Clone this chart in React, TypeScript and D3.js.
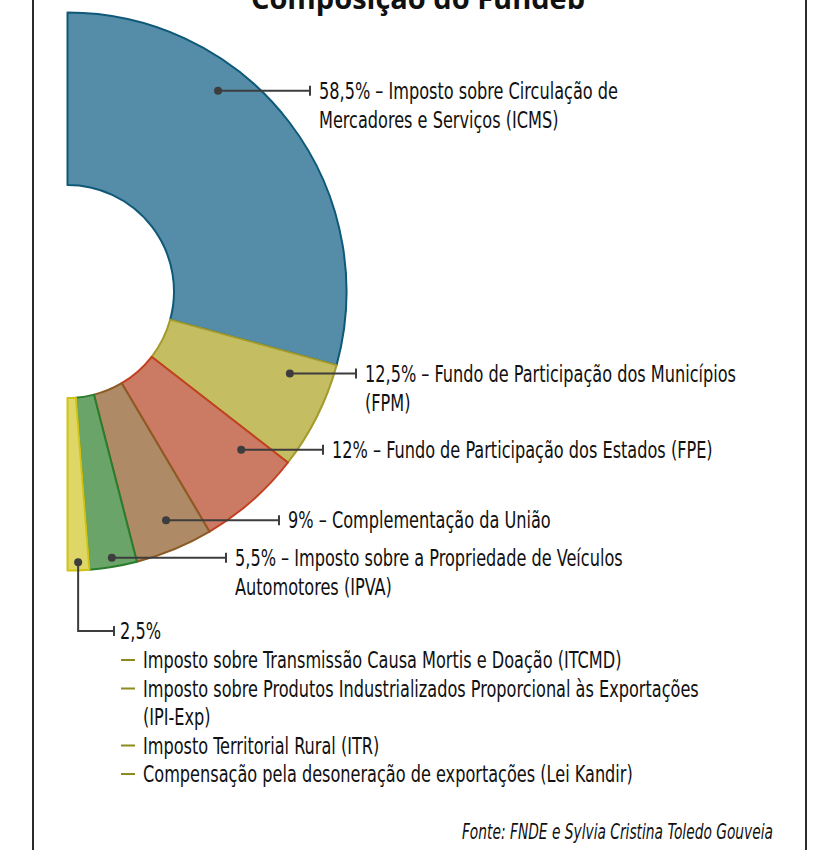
import React from "react";
import * as d3 from "d3";

const categories = [
  "ICMS",
  "FPM",
  "FPE",
  "Complementação",
  "IPVA",
  "Outros",
];
const values = [58.5, 12.5, 12, 9, 5.5, 2.5];
const fills = ["#558da8", "#c4bd62", "#cb7a64", "#ae8a66", "#6aa468", "#ded667"];
const strokes = ["#0e5878", "#a39b2c", "#c2401f", "#8c5b24", "#2a7d2d", "#d1c315"];

const labelLines: string[][] = [
  ["58,5% – Imposto sobre Circulação de", "Mercadores e Serviços (ICMS)"],
  ["12,5% – Fundo de Participação dos Municípios", "(FPM)"],
  ["12% – Fundo de Participação dos Estados (FPE)"],
  ["9% – Complementação da União"],
  ["5,5% – Imposto sobre a Propriedade de Veículos", "Automotores (IPVA)"],
  ["2,5%"],
];

const otherItems: string[][] = [
  ["Imposto sobre Transmissão Causa Mortis e Doação (ITCMD)"],
  ["Imposto sobre Produtos Industrializados Proporcional às Exportações", "(IPI-Exp)"],
  ["Imposto Territorial Rural (ITR)"],
  ["Compensação pela desoneração de exportações (Lei Kandir)"],
];

const title = "Composição do Fundeb";
const source = "Fonte: FNDE e Sylvia Cristina Toledo Gouveia";

// layout (positions of leader dots within slices and label anchors)
const dotFrac = [0.35, 0.22, 0.21, 0.45, 0.5, 0.5];
const dotRad = [251, 237, 235, 249, 270, 271];
const tickX = [310, 356, 323, 279, 226, 114];

const FONT = "'DejaVu Sans Condensed', 'DejaVu Sans', sans-serif";
const SX = 0.78;

function T(props: {
  x: number;
  y: number;
  text: string;
  size?: number;
  sx?: number;
  anchor?: string;
  italic?: boolean;
}) {
  const { x, y, text, size = 23, sx = SX, anchor = "start", italic = false } = props;
  return (
    <text
      transform={`translate(${x},${y}) scale(${sx},1)`}
      dy="0.35em"
      fontSize={size}
      textAnchor={anchor}
      fontStyle={italic ? "italic" : "normal"}
      fill="#111"
    >
      {text}
    </text>
  );
}

export default function App() {
  const W = 826;
  const H = 850;
  const cx = 67.5;
  const cy = 291.5;
  const R = 279;
  const r = 106.5;
  const lineH = 29;

  const pie = d3
    .pie<number>()
    .sort(null)
    .startAngle(0)
    .endAngle(Math.PI)
    .value((d) => d);
  const arcs = pie(values);
  const arcGen = d3.arc<d3.PieArcDatum<number>>().innerRadius(r).outerRadius(R);

  const dots = arcs.map((a, i) => {
    const ang = a.startAngle + (a.endAngle - a.startAngle) * dotFrac[i];
    return {
      x: cx + dotRad[i] * Math.sin(ang),
      y: cy - dotRad[i] * Math.cos(ang),
    };
  });

  const lastLabelY = 631;
  const listStartY = lastLabelY + lineH;
  let yy = listStartY;
  const listRows: { text: string; y: number; dash: boolean }[] = [];
  otherItems.forEach((item) => {
    item.forEach((t, j) => {
      listRows.push({ text: t, y: yy, dash: j === 0 });
      yy += 28.5;
    });
  });

  return (
    <svg
      width={W}
      height={H}
      style={{ position: "absolute", left: 0, top: 0, background: "#fff" }}
      fontFamily={FONT}
    >
      <rect x={0} y={0} width={W} height={H} fill="#fff" />
      <line x1={33} y1={0} x2={33} y2={H} stroke="#2b2b2b" strokeWidth={2} />
      <line x1={806} y1={0} x2={806} y2={H} stroke="#2b2b2b" strokeWidth={2} />
      <text
        x={418}
        y={9}
        textAnchor="middle"
        fontWeight="bold"
        fontSize={29}
        fill="#111"
        fontFamily="'Open Sans', 'Liberation Sans', sans-serif"
      >
        {title}
      </text>

      <g transform={`translate(${cx},${cy})`}>
        {arcs.map((a, i) => (
          <path
            key={categories[i]}
            d={arcGen(a) || ""}
            fill={fills[i]}
            stroke={strokes[i]}
            strokeWidth={2}
            strokeLinejoin="round"
          />
        ))}
      </g>

      {dots.map((d, i) => {
        const last = i === dots.length - 1;
        const ly = last ? lastLabelY : d.y;
        const path = last
          ? `M${d.x},${d.y}V${ly}H${tickX[i]}`
          : `M${d.x},${d.y}H${tickX[i]}`;
        return (
          <g key={"lead" + i}>
            <path d={path} fill="none" stroke="#3d3d3d" strokeWidth={2} />
            <line x1={tickX[i]} x2={tickX[i]} y1={ly - 5} y2={ly + 5} stroke="#3d3d3d" strokeWidth={2} />
            <circle cx={d.x} cy={d.y} r={4} fill="#3d3d3d" />
            {labelLines[i].map((t, j) => (
              <T key={j} x={tickX[i] + (last ? 6 : 9)} y={ly + j * lineH} text={t} />
            ))}
          </g>
        );
      })}

      {listRows.map((row, i) => (
        <g key={"row" + i}>
          {row.dash && (
            <line x1={121} x2={135} y1={row.y} y2={row.y} stroke="#8f8a1e" strokeWidth={2} />
          )}
          <T x={143} y={row.y} text={row.text} />
        </g>
      ))}

      <T x={773} y={832} text={source} size={21} sx={0.73} anchor="end" italic />
    </svg>
  );
}
